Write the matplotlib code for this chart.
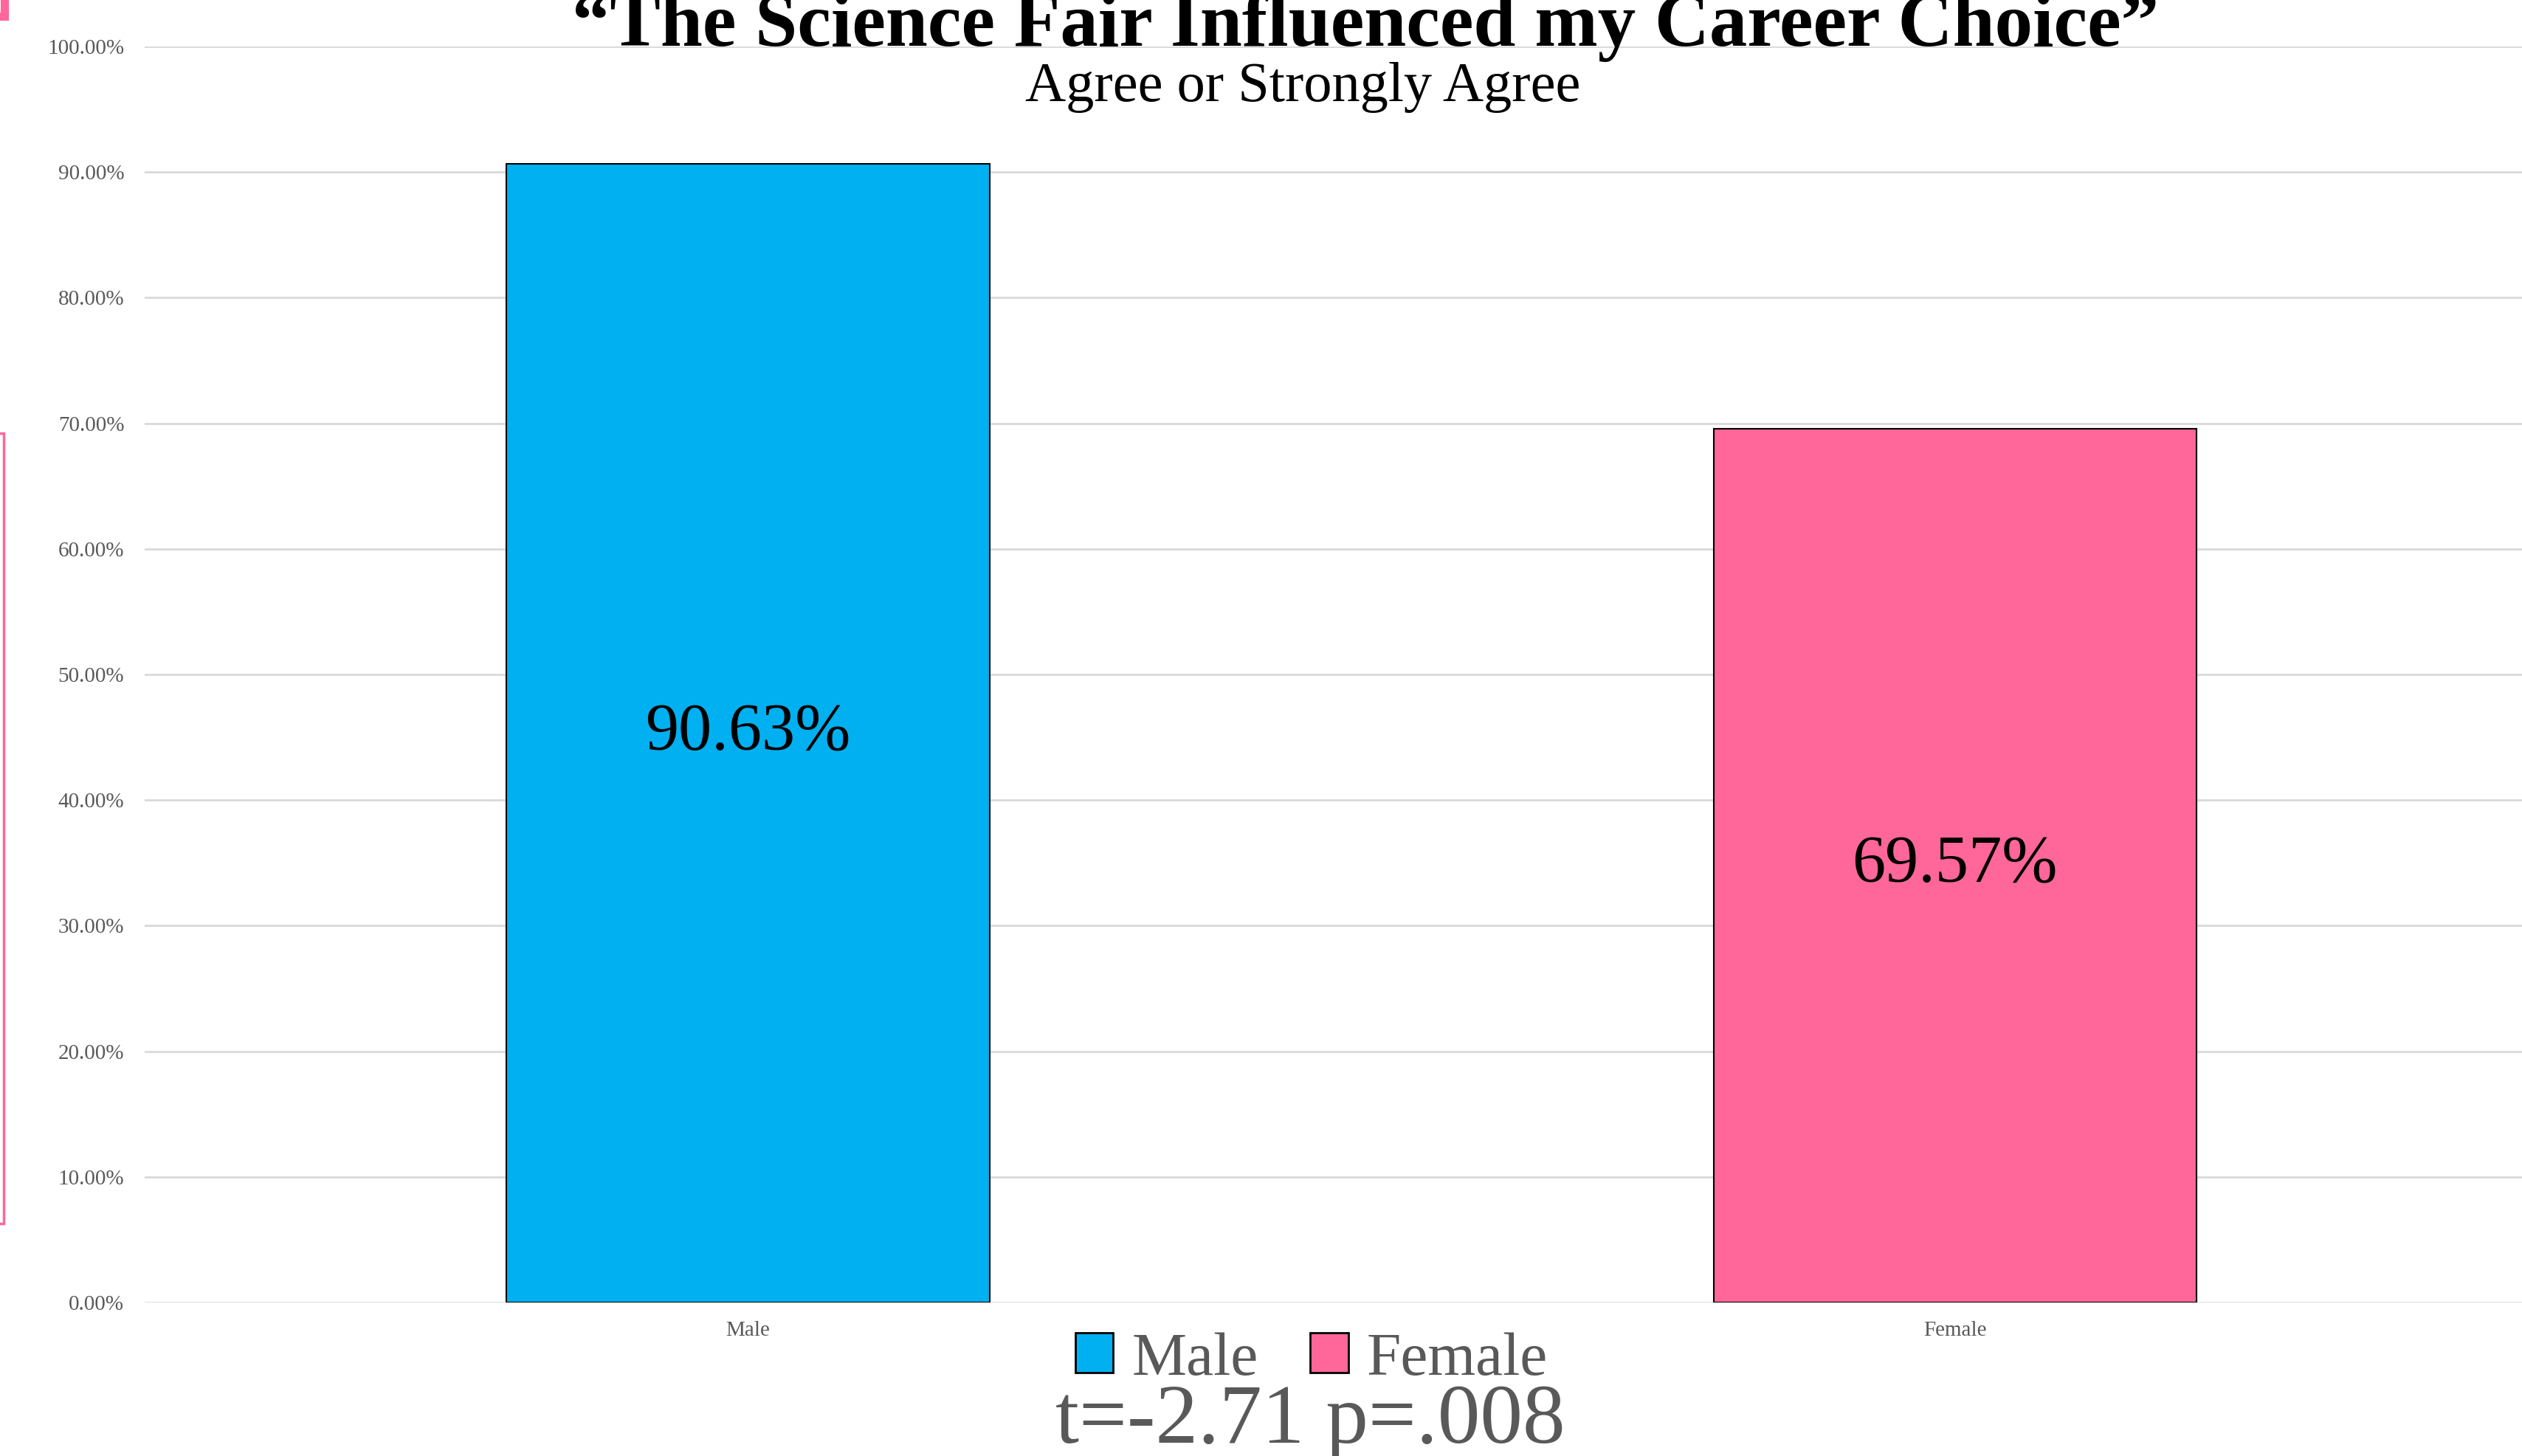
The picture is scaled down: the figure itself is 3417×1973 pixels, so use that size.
import matplotlib
matplotlib.use("Agg")
import matplotlib.pyplot as plt
from matplotlib.patches import Patch, Rectangle
from matplotlib.ticker import PercentFormatter

# data
categories = ["Male", "Female"]
values = [0.9063, 0.6957]
bar_colors = ["#00B0F0", "#FF6699"]
value_labels = ["90.63%", "69.57%"]
yticks = [0.0, 0.1, 0.2, 0.3, 0.4, 0.5, 0.6, 0.7, 0.8, 0.9, 1.0]
title = "\u201cThe Science Fair Influenced my Career Choice\u201d"
subtitle = "Agree or Strongly Agree"
stats_text = "t=-2.71 p=.008"

plt.rcParams['font.family'] = ['Liberation Serif', 'DejaVu Serif']
gray = "#595959"

W, H = 3417, 1973
fig = plt.figure(figsize=(W / 100, H / 100), dpi=100)
ax = fig.add_axes([196 / W, 1 - 1765 / H, (3466 - 196) / W, (1765 - 63) / H])

x = list(range(len(categories)))
bars = ax.bar(x, values, width=0.4, color=bar_colors, edgecolor="black", linewidth=1.5, zorder=3)
for b, lab in zip(bars, value_labels):
    ax.text(b.get_x() + b.get_width() / 2, b.get_height() / 2, lab,
            ha="center", va="center", fontsize=65, color="black", zorder=4)

ax.set_xlim(-0.5, 1.5)
ax.set_ylim(0, 1.0)
ax.set_yticks(yticks)
ax.yaxis.set_major_formatter(PercentFormatter(1.0, decimals=2))
ax.set_xticks(x)
ax.set_xticklabels(categories)
ax.tick_params(axis="both", length=0, labelsize=21, labelcolor=gray)
ax.tick_params(axis="y", pad=20)
ax.tick_params(axis="x", pad=18)
ax.grid(axis="y", color="#D9D9D9", linewidth=2, zorder=0)
for s in ax.spines.values():
    s.set_visible(False)

fig.text(1850 / W, 1 - 62 / H, title, ha="center", va="baseline",
         fontsize=74, fontweight="bold", color="black")
fig.text(1765 / W, 1 - 137 / H, subtitle, ha="center", va="baseline",
         fontsize=55, color="black")

handles = [Patch(facecolor=c, edgecolor="black", linewidth=2) for c in bar_colors]
leg = fig.legend(handles, categories, loc="center", ncol=2,
                 bbox_to_anchor=(1777 / W, 1 - 1843 / H), frameon=False,
                 fontsize=60, handlelength=0.62, handleheight=0.62,
                 handletextpad=0.3, columnspacing=0.85, borderpad=0)
for t in leg.get_texts():
    t.set_color(gray)

fig.text(1775 / W, 1 - 1955 / H, stats_text, ha="center", va="baseline",
         fontsize=83, color=gray)

# pink slide marks on the left edge
fig.patches.append(Rectangle((-10 / W, 1 - 1658 / H), 15 / W, (1658 - 587) / H,
                             transform=fig.transFigure, fill=False,
                             edgecolor="#FF6699", linewidth=2.5))
fig.patches.append(Rectangle((-20 / W, 1 - 22 / H), 26 / W, 40 / H,
                             transform=fig.transFigure, fill=False,
                             edgecolor="#FF6699", linewidth=8))

fig.savefig("out.png", dpi=100, facecolor="white")
